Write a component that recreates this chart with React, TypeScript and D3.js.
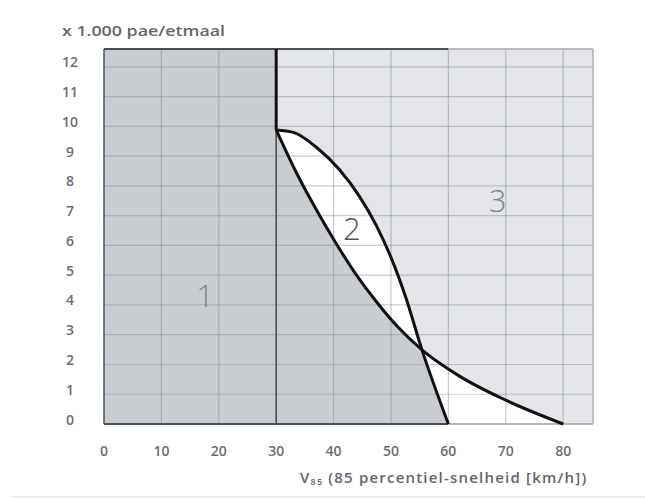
import * as d3 from "d3";

// speed (km/h) and volume (x 1.000 pae/etmaal)
const xTicks = [0, 10, 20, 30, 40, 50, 60, 70, 80];
const yTicks = [0, 1, 2, 3, 4, 5, 6, 7, 8, 9, 10, 11, 12];
const upperV = [30, 33, 37, 41, 44.5, 47.5, 50, 52.5, 55.4, 60];
const upperQ = [9.88, 9.8, 9.3, 8.55, 7.65, 6.65, 5.6, 4.3, 2.49, 0];
const lowerV = [30, 33.5, 37, 40.5, 44, 47.5, 51, 55.4, 62, 70, 80];
const lowerQ = [9.88, 8.45, 7.2, 6.05, 5.0, 4.1, 3.3, 2.49, 1.6, 0.8, 0];
const regionNames = ["1", "2", "3"];
const regionV = [17.6, 43.2, 68.6];
const regionQ = [4.33, 6.59, 7.53];
const borderV = 30;
const yLabel = "x 1.000 pae/etmaal";

const W = 645;
const H = 503;

export default function App() {
  const x = d3.scaleLinear().domain([0, 85.2]).range([104, 593]);
  const y = d3.scaleLinear().domain([0, 12.6]).range([424, 49]);
  const [x0, x1] = x.range();
  const [yb, yt] = y.range();

  const upper = upperV.map((v, i) => [v, upperQ[i]] as [number, number]);
  const lower = lowerV.map((v, i) => [v, lowerQ[i]] as [number, number]);

  const line = d3
    .line<[number, number]>()
    .x((d) => x(d[0]))
    .y((d) => y(d[1]))
    .curve(d3.curveMonotoneX);
  const area = d3
    .area<[number, number]>()
    .x((d) => x(d[0]))
    .y0(y(0))
    .y1((d) => y(d[1]))
    .curve(d3.curveMonotoneX);

  const dark = "#c9cdd2";
  const light = "#e3e5e9";
  const joinQ = upperQ[0];

  return (
    <svg
      width={W}
      height={H}
      style={{ position: "absolute", left: 0, top: 0, background: "#fff" }}
      fontFamily="'Open Sans', 'DejaVu Sans', sans-serif"
    >
      <defs>
        <clipPath id="underLower">
          <path d={area(lower) || ""} />
        </clipPath>
      </defs>

      {/* regions */}
      <rect x={x(borderV)} y={yt} width={x1 - x(borderV)} height={yb - yt} fill={light} />
      <rect x={x0} y={yt} width={x(borderV) - x0} height={yb - yt} fill={dark} />
      <path d={area(upper) || ""} fill="#fff" />
      <path d={area(lower) || ""} fill="#fff" />
      <path d={area(upper) || ""} fill={dark} clipPath="url(#underLower)" />

      {/* grid */}
      {yTicks
        .filter((t) => t > 0)
        .map((t) => (
          <line key={"h" + t} x1={x0} x2={x1} y1={y(t)} y2={y(t)} stroke="#7d848c" strokeOpacity={0.4} strokeWidth={1.2} />
        ))}
      {xTicks
        .filter((t) => t > 0 && t !== borderV)
        .map((t) => (
          <line key={"v" + t} x1={x(t)} x2={x(t)} y1={yt} y2={yb} stroke="#7d848c" strokeOpacity={0.45} strokeWidth={1.2} />
        ))}
      <line x1={x(borderV)} x2={x(borderV)} y1={yb} y2={y(joinQ)} stroke="#4a4f55" strokeWidth={1.6} />

      {/* frame */}
      <line x1={x0} x2={x0} y1={yt} y2={yb} stroke="#555a60" strokeWidth={1.6} />
      <line x1={x1} x2={x1} y1={yt} y2={yb} stroke="#a9adb2" strokeWidth={1.4} />
      <line x1={x0} x2={x(60)} y1={yb} y2={yb} stroke="#4a4f55" strokeWidth={1.8} />
      <line x1={x(60)} x2={x1} y1={yb} y2={yb} stroke="#9a9ea4" strokeWidth={1.6} />
      <line x1={x0} x2={x(60)} y1={yt} y2={yt} stroke="#4a4f55" strokeWidth={1.8} />
      <line x1={x(60)} x2={x1} y1={yt} y2={yt} stroke="#a9adb2" strokeWidth={1.6} />

      {/* boundaries */}
      <line x1={x(borderV)} x2={x(borderV)} y1={yt} y2={y(joinQ)} stroke="#111" strokeWidth={3} />
      <path d={line(upper) || ""} fill="none" stroke="#111" strokeWidth={3} strokeLinejoin="round" />
      <path d={line(lower) || ""} fill="none" stroke="#111" strokeWidth={3} strokeLinejoin="round" />

      {/* region numbers */}
      {regionNames.map((n, i) => (
        <text
          key={n}
          x={x(regionV[i])}
          y={y(regionQ[i])}
          textAnchor="middle"
          dominantBaseline="central"
          fontSize={31}
          fontWeight={300}
          fill={n === "2" ? "#4d5258" : "#80858b"}
        >
          {n}
        </text>
      ))}

      {/* ticks */}
      {yTicks.map((t) => (
        <text key={"yt" + t} x={70} y={y(t) - 5} textAnchor="middle" dominantBaseline="central" fontSize={14} fontWeight={600} fill="#6a6e73">
          {t}
        </text>
      ))}
      {xTicks.map((t) => (
        <text key={"xt" + t} x={x(t)} y={450} textAnchor="middle" dominantBaseline="central" fontSize={14} fontWeight={600} fill="#6a6e73">
          {t}
        </text>
      ))}

      {/* titles */}
      <text x={62} y={30} dominantBaseline="central" fontSize={14.5} fontWeight={600} fill="#62666b" textLength={163} lengthAdjust="spacingAndGlyphs">
        {yLabel}
      </text>
      <text x={300} y={477} dominantBaseline="central" fontSize={15} fontWeight={600} fill="#62666b" letterSpacing={1.2}>
        V
        <tspan fontSize={9} dy={4}>85</tspan>
        <tspan dy={-4}> (85 percentiel-snelheid [km/h])</tspan>
      </text>

      <line x1={12} x2={W} y1={497} y2={497} stroke="#ececec" strokeWidth={2} />
    </svg>
  );
}
